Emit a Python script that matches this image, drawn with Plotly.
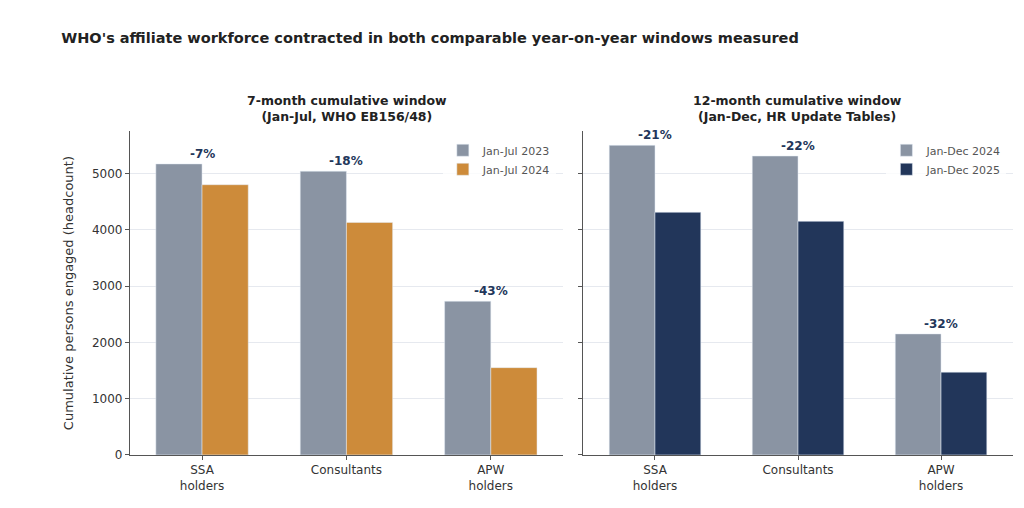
import plotly.graph_objects as go

categories = ["SSA<br>holders", "Consultants", "APW<br>holders"]
jul_2023 = [5170, 5040, 2730]
jul_2024 = [4800, 4130, 1550]
dec_2024 = [5500, 5310, 2150]
dec_2025 = [4310, 4150, 1470]
left_pct = ["-7%", "-18%", "-43%"]
right_pct = ["-21%", "-22%", "-32%"]

GRAY = "#8a94a3"
ORANGE = "#cd8b3a"
NAVY = "#22365a"
FONT = "DejaVu Sans"

fig = go.Figure()
fig.add_trace(go.Bar(x=categories, y=jul_2023, name="Jan-Jul 2023", marker_color=GRAY,
                     xaxis="x", yaxis="y", legend="legend"))
fig.add_trace(go.Bar(x=categories, y=jul_2024, name="Jan-Jul 2024", marker_color=ORANGE,
                     xaxis="x", yaxis="y", legend="legend"))
fig.add_trace(go.Bar(x=categories, y=dec_2024, name="Jan-Dec 2024", marker_color=GRAY,
                     xaxis="x2", yaxis="y2", legend="legend2"))
fig.add_trace(go.Bar(x=categories, y=dec_2025, name="Jan-Dec 2025", marker_color=NAVY,
                     xaxis="x2", yaxis="y2", legend="legend2"))

annotations = []
for c, a, b, t in zip(categories, jul_2023, jul_2024, left_pct):
    annotations.append(dict(x=c, y=max(a, b), text="<b>" + t + "</b>", xref="x", yref="y",
                            showarrow=False, yanchor="bottom", yshift=1,
                            font=dict(color=NAVY, size=12)))
for c, a, b, t in zip(categories, dec_2024, dec_2025, right_pct):
    annotations.append(dict(x=c, y=max(a, b), text="<b>" + t + "</b>", xref="x2", yref="y2",
                            showarrow=False, yanchor="bottom", yshift=1,
                            font=dict(color=NAVY, size=12)))

annotations.append(dict(x=0.331, y=0.765, xref="paper", yref="paper", showarrow=False,
                        xanchor="center", yanchor="bottom", align="center",
                        text="<b>7-month cumulative window<br>(Jan-Jul, WHO EB156/48)</b>",
                        font=dict(size=12.5, color="#222")))
annotations.append(dict(x=0.771, y=0.765, xref="paper", yref="paper", showarrow=False,
                        xanchor="center", yanchor="bottom", align="center",
                        text="<b>12-month cumulative window<br>(Jan-Dec, HR Update Tables)</b>",
                        font=dict(size=12.5, color="#222")))

yax = dict(range=[0, 5750], tickvals=[0, 1000, 2000, 3000, 4000, 5000], showgrid=True,
           gridcolor="#e6e9ef", showline=True, linecolor="#555", ticks="outside",
           ticklen=4, tickcolor="#555", zeroline=False)
xax = dict(showline=True, linecolor="#555", ticks="outside", ticklen=4, tickcolor="#555")

fig.update_layout(
    width=1024, height=508,
    font=dict(family=FONT, size=12, color="#333"),
    paper_bgcolor="white", plot_bgcolor="white",
    margin=dict(l=0, r=0, t=0, b=0),
    barmode="group", bargap=0.36, bargroupgap=0,
    title=dict(text="<b>WHO's affiliate workforce contracted in both comparable year-on-year windows measured</b>",
               x=0.052, xanchor="left", y=0.94, yanchor="middle", yref="paper",
               font=dict(size=14.5, color="#222")),
    xaxis=dict(domain=[0.119, 0.542], anchor="y", **xax),
    xaxis2=dict(domain=[0.562, 0.981], anchor="y2", **xax),
    yaxis=dict(domain=[0.108, 0.754], anchor="x",
               title=dict(text="Cumulative persons engaged (headcount)", font=dict(size=13)), **yax),
    yaxis2=dict(domain=[0.108, 0.754], anchor="x2", showticklabels=False, **yax),
    legend=dict(x=0.535, y=0.745, xanchor="right", yanchor="top", bgcolor="rgba(255,255,255,0.8)",
                font=dict(size=11, color="#555")),
    legend2=dict(x=0.975, y=0.745, xanchor="right", yanchor="top", bgcolor="rgba(255,255,255,0.8)",
                 font=dict(size=11, color="#555")),
    annotations=annotations,
)

fig.write_html("out.html")
